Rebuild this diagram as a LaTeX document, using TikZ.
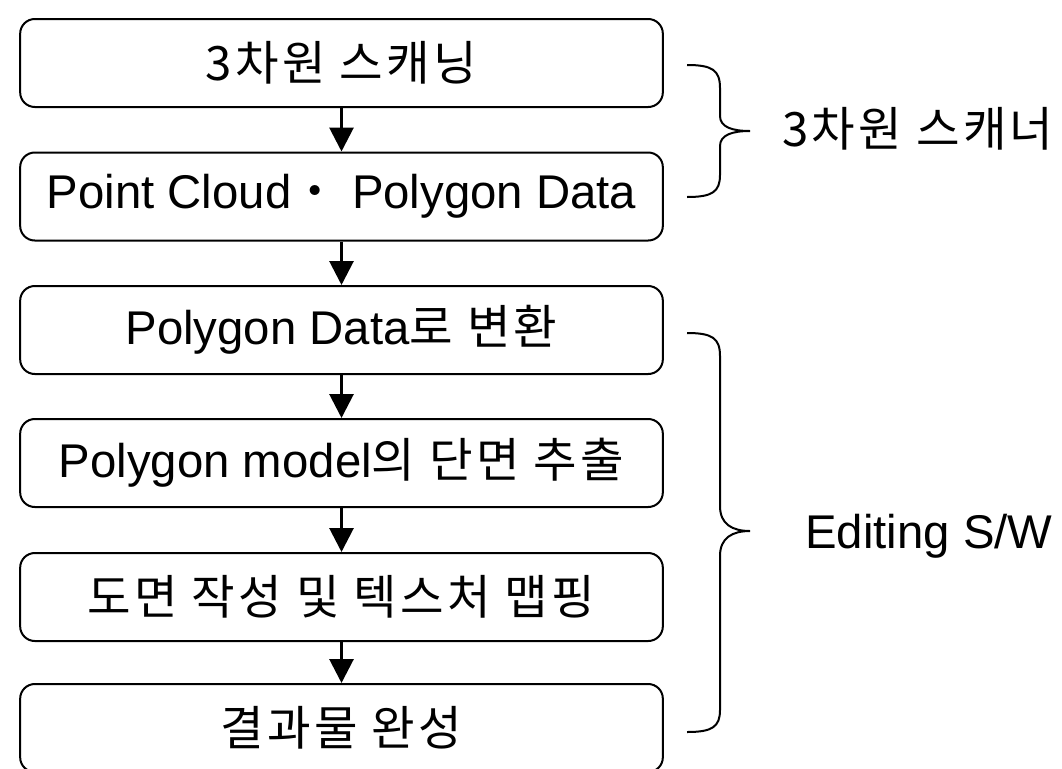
\documentclass[tikz,border=0pt]{standalone}
\usepackage{fontspec}
\setmainfont{Liberation Sans}
\newfontfamily\kr[LetterSpace=7]{Noto Sans CJK KR}
\usetikzlibrary{arrows.meta}

\begin{document}
\begin{tikzpicture}[x=0.75pt,y=-0.75pt,
    font=\fontsize{35.5pt}{40pt}\selectfont,
    stepbox/.style={draw,line width=1.5pt,rounded corners=11pt,
      minimum width=482pt,minimum height=66pt,inner sep=0pt},
    flow/.style={line width=2.2pt,-{Triangle[width=18pt,length=18pt]}},
    brace/.style={line width=1.5pt}]
    \useasboundingbox (0,0) rectangle (1062,768);
    \node[stepbox] (scan) at (341.5,63) {\kr 3차원 스캐닝};
    \node[stepbox] (data) at (341.5,196.5) {Point Cloud{\kr ・} Polygon Data};
    \node[stepbox] (conv) at (341.5,330) {Polygon Data{\kr 로 변환}};
    \node[stepbox] (sect) at (341.5,463) {Polygon model{\kr 의 단면 추출}};
    \node[stepbox] (draft) at (341.5,597) {\kr 도면 작성 및 텍스처 맵핑};
    \node[stepbox] (done) at (341.5,728) {\kr 결과물 완성};
    \foreach \a/\b in {scan/data,data/conv,conv/sect,sect/draft,draft/done}
    \draw[flow] (\a) -- (\b);
    \draw[brace] (687,65) .. controls (712,65) and (720,70) .. (720,88) -- (720,116)
      .. controls (720,127) and (732,131) .. (750,131)
      .. controls (732,131) and (720,135) .. (720,146) -- (720,175)
      .. controls (720,192) and (712,197) .. (687,197);
    \draw[brace] (687,333) .. controls (712,333) and (720,338) .. (720,356) -- (720,506)
      .. controls (720,524) and (732,531) .. (750,531)
      .. controls (732,531) and (720,538) .. (720,556) -- (720,710)
      .. controls (720,727) and (712,732) .. (687,732);
    \node[anchor=base west,inner sep=0pt] (scanner) at (782,146) {\kr 3차원 스캐너};
    \node[anchor=base west,inner sep=0pt] (sw) at (805,548) {Editing S/W};
\end{tikzpicture}
\end{document}
